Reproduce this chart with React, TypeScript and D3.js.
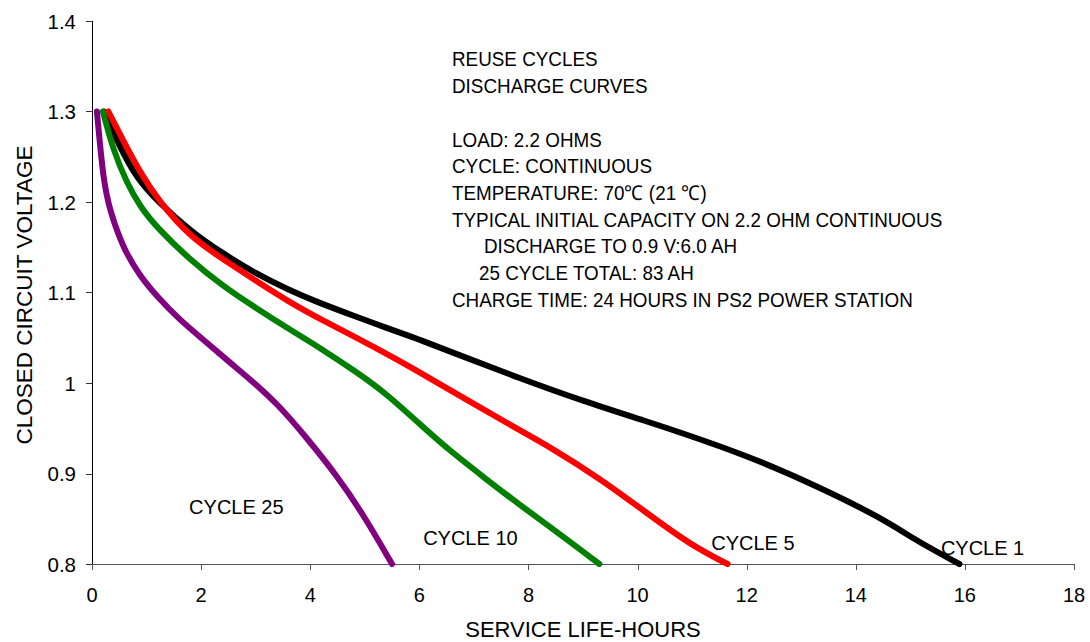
import React from "react";
import * as d3 from "d3";

type Pt = [number, number];

const cycle1: Pt[] = [
  [0.22, 1.3], [0.5, 1.262], [0.82, 1.226], [1.2, 1.201], [1.8, 1.168], [2.4, 1.143],
  [3.0, 1.121], [3.6, 1.103], [4.1, 1.09], [4.85, 1.073], [5.35, 1.062], [6.0, 1.048],
  [6.6, 1.034], [7.8, 1.006], [9.0, 0.98], [10.2, 0.957], [10.8, 0.945], [12.0, 0.92],
  [13.3, 0.886], [14.5, 0.85], [15.1, 0.826], [15.9, 0.8],
];
const cycle5: Pt[] = [
  [0.3, 1.3], [0.57, 1.268], [0.88, 1.233], [1.2, 1.203], [1.8, 1.161], [2.4, 1.137],
  [3.0, 1.113], [3.6, 1.09], [4.2, 1.07], [4.85, 1.05], [5.5, 1.029], [6.2, 1.005],
  [7.0, 0.977], [7.8, 0.949], [8.4, 0.929], [9.3, 0.895], [10.2, 0.855], [11.0, 0.82],
  [11.65, 0.8],
];
const cycle10: Pt[] = [
  [0.2, 1.3], [0.39, 1.257], [0.64, 1.221], [0.88, 1.195], [1.2, 1.171], [1.8, 1.136],
  [2.4, 1.107], [3.0, 1.083], [3.6, 1.06], [4.2, 1.038], [4.85, 1.012], [5.4, 0.988],
  [6.0, 0.955], [6.5, 0.928], [7.2, 0.895], [7.8, 0.867], [8.6, 0.832], [9.3, 0.8],
];
const cycle25: Pt[] = [
  [0.09, 1.3], [0.21, 1.222], [0.33, 1.19], [0.57, 1.149], [0.88, 1.118], [1.2, 1.095],
  [1.6, 1.07], [2.1, 1.045], [2.5, 1.024], [2.9, 1.004], [3.4, 0.977], [3.9, 0.942],
  [4.5, 0.897], [5.0, 0.852], [5.5, 0.8],
];

const seriesNames = ["CYCLE 1", "CYCLE 5", "CYCLE 10", "CYCLE 25"];
const seriesData = [cycle1, cycle5, cycle10, cycle25];
const seriesColors = ["#000000", "#ff0000", "#008000", "#800080"];
const labelPos: Pt[] = [[15.56, 0.81], [11.35, 0.815], [6.07, 0.821], [1.78, 0.855]];

const xTicks = [0, 2, 4, 6, 8, 10, 12, 14, 16, 18];
const yTicks = [0.8, 0.9, 1, 1.1, 1.2, 1.3, 1.4];

const noteLines = [
  { text: "REUSE CYCLES", indent: 0 },
  { text: "DISCHARGE CURVES", indent: 0 },
  { text: "", indent: 0 },
  { text: "LOAD: 2.2 OHMS", indent: 0 },
  { text: "CYCLE: CONTINUOUS", indent: 0 },
  { text: "TEMPERATURE: 70\u2103 (21 \u2103)", indent: 0 },
  { text: "TYPICAL INITIAL CAPACITY ON 2.2 OHM CONTINUOUS", indent: 0 },
  { text: "DISCHARGE TO 0.9 V:6.0 AH", indent: 32 },
  { text: "25 CYCLE TOTAL: 83 AH", indent: 27 },
  { text: "CHARGE TIME: 24 HOURS IN PS2 POWER STATION", indent: 0 },
];

const W = 1090;
const H = 642;
const left = 92;
const right = 1074;
const top = 21;
const bottom = 564;
const FONT = "'Liberation Sans', Arial, Helvetica, sans-serif";
const NOTE_SX = 0.92;

export default function App() {
  const x = d3.scaleLinear().domain([0, 18]).range([left, right]);
  const y = d3.scaleLinear().domain([0.8, 1.4]).range([bottom, top]);
  const line = d3
    .line<Pt>()
    .x((d) => x(d[0]))
    .y((d) => y(d[1]))
    .curve(d3.curveBasis);

  return (
    <svg
      width={W}
      height={H}
      style={{ position: "absolute", left: 0, top: 0, background: "#fff" }}
      fontFamily={FONT}
    >
      <rect x={0} y={0} width={W} height={H} fill="#fff" />
      {/* y axis */}
      <line x1={left + 0.5} x2={left + 0.5} y1={top} y2={bottom} stroke="#000" strokeWidth={1} />
      {yTicks.map((t) => (
        <g key={"y" + t}>
          <line x1={left - 6} x2={left} y1={Math.round(y(t)) + 0.5} y2={Math.round(y(t)) + 0.5} stroke="#333" />
          <text x={76} y={y(t) + 7.5} textAnchor="end" fontSize={20.5} fill="#000">
            {String(t)}
          </text>
        </g>
      ))}
      {/* x axis */}
      <line x1={left} x2={right} y1={bottom + 0.5} y2={bottom + 0.5} stroke="#555" strokeWidth={1} />
      {xTicks.map((t) => (
        <g key={"x" + t}>
          <line x1={Math.round(x(t)) + 0.5} x2={Math.round(x(t)) + 0.5} y1={bottom} y2={bottom + 6} stroke="#555" />
          <text x={x(t)} y={602} textAnchor="middle" fontSize={20} fill="#000">
            {String(t)}
          </text>
        </g>
      ))}
      {/* axis titles */}
      <text x={583} y={637} textAnchor="middle" fontSize={22} fill="#000">
        SERVICE LIFE-HOURS
      </text>
      <text
        transform={`translate(32,295) rotate(-90)`}
        textAnchor="middle"
        fontSize={22.5}
        fill="#000"
      >
        CLOSED CIRCUIT VOLTAGE
      </text>
      {/* curves */}
      {seriesData.map((d, i) => (
        <path
          key={seriesNames[i]}
          d={line(d) || ""}
          fill="none"
          stroke={seriesColors[i]}
          strokeWidth={6}
          strokeLinecap="round"
          strokeLinejoin="round"
        />
      ))}
      {/* curve labels */}
      {seriesNames.map((n, i) => (
        <text key={"l" + n} x={x(labelPos[i][0])} y={y(labelPos[i][1])} fontSize={20} fill="#000">
          {n}
        </text>
      ))}
      {/* notes */}
      <g transform={`translate(452,0) scale(${NOTE_SX},1)`}>
        {noteLines.map((l, i) => (
          <text key={"n" + i} x={l.indent / NOTE_SX} y={66.5 + i * 26.7} fontSize={20.5} fill="#000">
            {l.text}
          </text>
        ))}
      </g>
    </svg>
  );
}
